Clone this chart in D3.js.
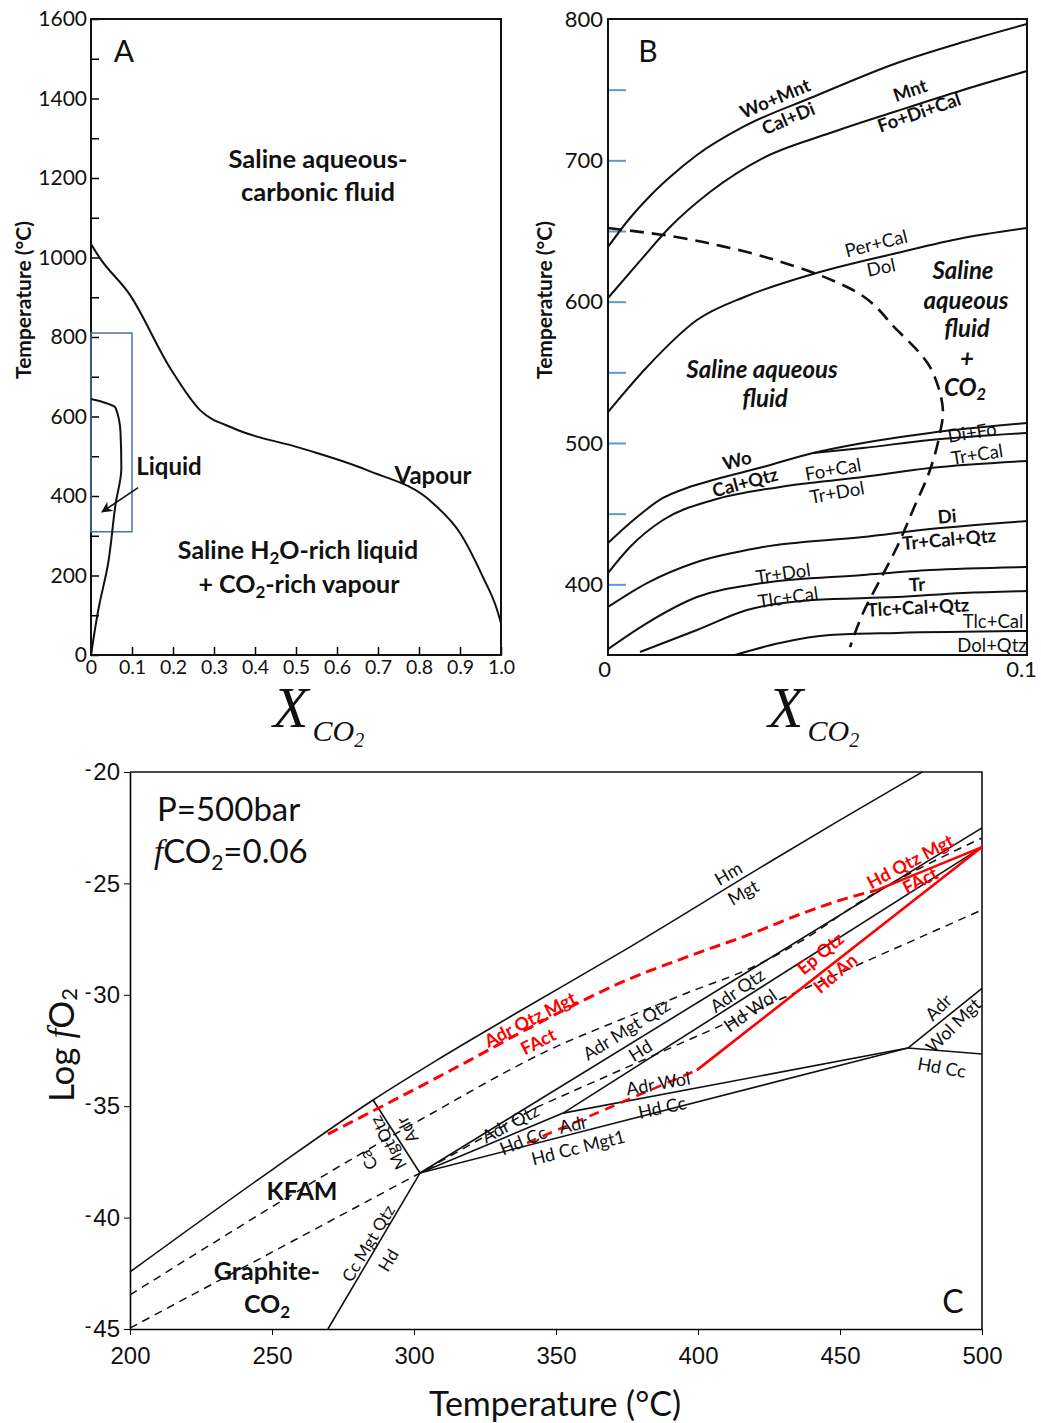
<!DOCTYPE html>
<html>
<head>
<meta charset="utf-8">
<script src="https://cdn.jsdelivr.net/npm/d3@7"></script>
<style>
body { margin: 0; background: #fff; }
svg { display: block; }
text { font-family: Lato, "Open Sans", sans-serif; fill: #111; }
</style>
</head>
<body>
<div id="container"></div>
<script>

// ---------- panel A : X_CO2 (0-1) vs temperature
var aSolvus = [[0,1034],[0.02,1001],[0.095,906],[0.193,722],[0.266,616],[0.346,571],[0.51,521],[0.673,465],[0.834,382],[0.9,307],[0.956,196],[0.99,115],[1.0,80]];
var aLiquid = [[0,0],[0.02,125],[0.04,220],[0.06,380],[0.074,470],[0.072,560],[0.06,622],[0.03,636],[0,644]];
var aBox = [[0,310],[0.1,810]];
var aArrow = [[0.115,421],[0.027,360]];
var aTicksX = [0,0.1,0.2,0.3,0.4,0.5,0.6,0.7,0.8,0.9,1.0];
var aTicksY = [0,200,400,600,800,1000,1200,1400,1600];
var aTicksYMinor = [100,300,500,700,900,1100,1300,1500];

// ---------- panel B : X_CO2 (0-0.1) vs temperature
var bWoMnt = [[0,638.7],[0.00525,659.2],[0.01002,674.8],[0.0148,688.2],[0.02124,703.8],[0.03222,723.6],[0.04893,744.8],[0.06897,768.9],[0.08473,783.7],[0.1,796.5]];
var bMnt = [[0,602.6],[0.00764,628.8],[0.0148,652.8],[0.02434,677.6],[0.03699,701.6],[0.05298,719.3],[0.06897,734.9],[0.08473,749.8],[0.1,763.2]];
var bPerCal = [[0,521.9],[0.00931,553.8],[0.02124,587.0],[0.03317,604.0],[0.04893,619.6],[0.06897,634.4],[0.08473,645.0],[0.1,652.1]];
var bWo = [[0,429.2],[0.00525,443.4],[0.01313,461.1],[0.01909,468.5],[0.02506,473.8],[0.03699,483.0],[0.04893,492.9],[0.06086,500.0],[0.07685,507.1],[0.1,514.1]];
var bDiFo = [[0.04893,492.9],[0.06086,496.5],[0.07685,502.1],[0.1,507.1]];
var bFoCal = [[0,408.0],[0.00525,426.4],[0.01313,445.5],[0.02506,459.7],[0.04105,468.9],[0.06086,475.9],[0.07685,482.3],[0.1,487.3]];
var bDi = [[0,384.0],[0.00931,400.9],[0.02124,415.8],[0.03699,426.4],[0.06086,433.5],[0.07685,439.1],[0.1,444.8]];
var bTrDol = [[0,354.2],[0.00931,372.6],[0.02124,391.0],[0.03699,400.9],[0.06086,406.6],[0.07685,410.1],[0.1,412.3]];
var bTr = [[0.00764,352.1],[0.02124,367.7],[0.03317,381.8],[0.04893,388.9],[0.06897,391.0],[0.08473,393.9],[0.1,395.3]];
var bTlc = [[0.03031,350],[0.04105,358.5],[0.05298,364.1],[0.06897,365.6],[0.1,367.0]];
var bFluid = [[0,652.1],[0.01313,647.2],[0.02912,638.0],[0.04511,624.5],[0.05704,610.4],[0.06897,580.0],[0.07685,553.8],[0.07852,542.4],[0.07995,521.2],[0.07924,507.1],[0.07685,480.9],[0.07279,452.6],[0.06897,426.4],[0.06492,403.1],[0.06086,379.7],[0.05776,355.6]];
var bTicksY = [400,500,600,700,800];
var bTicksBlue = [400,450,500,550,600,650,700,750];
var bTicksX = [0,0.1];

// ---------- panel C : temperature vs log fO2
var cHmMgt = [[200,-42.44],[250.4,-37.82],[285.6,-34.72],[308.1,-32.93],[337.3,-30.73],[372.5,-28.12],[426.4,-23.95],[448.9,-22.24],[479,-20]];
var cRedUpperDash = [[269.7,-36.25],[319.7,-32.93],[337.3,-31.71],[354.9,-30.55],[372.5,-29.47],[396.1,-28.30],[419.4,-27.23],[437.0,-26.33],[452.5,-25.66],[463.0,-25.30]];
var cRedUpperSolid = [[463.0,-25.30],[500,-23.37]];
var cDashUpper = [[200,-43.47],[302.1,-35.62],[351.4,-32.25],[372.5,-31.13],[396.1,-29.92],[419.4,-28.75],[437,-27.54],[458.1,-25.75],[500,-22.96]];
var cDashLower = [[200,-44.96],[302.1,-38.0],[343.3,-35.04],[500,-26.19]];
var cFan = [302.1,-38.0];
var cP2 = [352.5,-35.31];
var cP3 = [473.9,-32.39];
var cSolid = [
	[cFan,[500,-22.51]],
	[cP2,[500,-23.37]],
	[cFan,cP2],
	[cP2,cP3],
	[cFan,cP3],
	[cP3,[500,-29.71]],
	[cP3,[500,-32.66]],
	[[285.6,-34.72],cFan],
	[cFan,[269.7,-45]]
];
var cRedLowerDash = [[339.8,-36.65],[399.6,-33.38]];
var cRedSolid = [[399.6,-33.38],[500,-23.37]];
var cTicksX = [200,250,300,350,400,450,500];
var cTicksY = [-20,-25,-30,-35,-40,-45];


var svg = d3.select("#container").append("svg")
	.attr("width", 1041).attr("height", 1423);


function drawline(g, data, x, y, curve, stroke, width, dash) {
	g.append("path").datum(data)
	 .attr("d", d3.line().x(function(d){return x(d[0])}).y(function(d){return y(d[1])}).curve(curve))
	 .attr("fill", "none")
	 .attr("stroke", stroke)
	 .attr("stroke-width", width)
	 .attr("stroke-dasharray", dash || null);
};


function note(g, str, px, py, o) {
	o = o || {};
	var size = o.size || 18;
	var t = g.append("text")
	 .attr("x", px).attr("y", py)
	 .attr("text-anchor", o.anchor || "middle")
	 .attr("dominant-baseline", "central")
	 .attr("font-size", size)
	 .attr("font-weight", o.bold ? "bold" : "normal")
	 .attr("font-style", o.italic ? "italic" : "normal")
	 .style("fill", o.color || "#111");
	if (o.rot) t.attr("transform", "rotate(" + o.rot + "," + px + "," + py + ")");
	if (typeof str === "string") {
		t.text(str);
	} else {
		// parts: [text, sub?, back-up?]
		str.forEach(function(p) {
			var s = t.append("tspan").text(p[0]);
			if (p[1]) s.attr("font-size", size * 0.68).attr("dy", size * 0.3);
			else if (p[2]) s.attr("dy", -size * 0.3);
		});
	}
	return t;
};


function xco2(g, px, base) {
	var t = g.append("text").attr("x", px).attr("y", base)
	 .style("font-family", "'Liberation Serif','DejaVu Serif',serif")
	 .attr("font-style", "italic");
	t.append("tspan").attr("font-size", 58).text("X");
	t.append("tspan").attr("font-size", 30).attr("dx", 4).attr("dy", 14).text("CO");
	t.append("tspan").attr("font-size", 20).attr("dy", 6).text("2");
};


// ================= PANEL A
function panelA() {
	var g = svg.append("g");
	var x = d3.scaleLinear().domain([0, 1]).range([91, 501]);
	var y = d3.scaleLinear().domain([0, 1600]).range([655, 19]);

	g.append("g").attr("transform", "translate(91,0)")
	 .call(d3.axisLeft(y).tickValues(aTicksYMinor).tickSize(-8).tickFormat(""));
	g.append("g").attr("transform", "translate(91,0)")
	 .call(d3.axisLeft(y).tickValues(aTicksY).tickSize(-8).tickPadding(4).tickFormat(d3.format("d")))
	 .selectAll("text").attr("font-size", 21).style("font-family", "Lato, sans-serif");
	g.append("g").attr("transform", "translate(0,655)")
	 .call(d3.axisBottom(x).tickValues(aTicksX).tickSize(-8).tickPadding(5)
	   .tickFormat(function(d){ return d === 0 ? "0" : d3.format(".1f")(d) }))
	 .selectAll("text").attr("font-size", 19.5).style("font-family", "Lato, sans-serif");
	g.selectAll(".domain").remove();
	g.selectAll(".tick line").attr("stroke-width", 1.5);

	g.append("rect").attr("x", x(0)).attr("y", y(1600))
	 .attr("width", x(1) - x(0)).attr("height", y(0) - y(1600))
	 .attr("fill", "none").attr("stroke", "#111").attr("stroke-width", 2);

	g.append("rect").attr("x", x(aBox[0][0])).attr("y", y(aBox[1][1]))
	 .attr("width", x(aBox[1][0]) - x(aBox[0][0]))
	 .attr("height", y(aBox[0][1]) - y(aBox[1][1]))
	 .attr("fill", "none").attr("stroke", "#4a70a8").attr("stroke-width", 1.5);

	drawline(g, aSolvus, x, y, d3.curveMonotoneX, "#111", 2);
	drawline(g, aLiquid, x, y, d3.curveMonotoneY, "#111", 2);

	svg.append("defs").append("marker").attr("id", "arrowA")
	 .attr("viewBox", "0 0 10 10").attr("refX", 9).attr("refY", 5)
	 .attr("markerWidth", 7).attr("markerHeight", 7).attr("orient", "auto")
	 .append("path").attr("d", "M0,0L10,5L0,10L3,5Z").attr("fill", "#111");
	g.append("line")
	 .attr("x1", x(aArrow[0][0])).attr("y1", y(aArrow[0][1]))
	 .attr("x2", x(aArrow[1][0])).attr("y2", y(aArrow[1][1]))
	 .attr("stroke", "#111").attr("stroke-width", 1.6).attr("marker-end", "url(#arrowA)");

	note(g, "A", 124, 50, {size: 30});
	note(g, "Saline aqueous-", 318, 158, {size: 25.5, bold: true});
	note(g, "carbonic fluid", 318, 191, {size: 25.5, bold: true});
	note(g, "Liquid", 169, 465, {size: 24, bold: true});
	note(g, "Vapour", 433, 474, {size: 24, bold: true});
	note(g, [["Saline H"], ["2", true], ["O-rich liquid", false, true]], 298, 549, {size: 25, bold: true});
	note(g, [["+ CO"], ["2", true], ["-rich vapour", false, true]], 299, 583, {size: 25, bold: true});
	note(g, "Temperature (°C)", 22, 300, {size: 21, bold: true, rot: -90});
	xco2(g, 273, 727);
};


// ================= PANEL B
function panelB() {
	var g = svg.append("g");
	var x = d3.scaleLinear().domain([0, 0.1]).range([608, 1027]);
	var y = d3.scaleLinear().domain([350, 800]).range([655, 19]);

	g.append("g").attr("transform", "translate(608,0)")
	 .call(d3.axisLeft(y).tickValues(bTicksBlue).tickSize(-18).tickFormat(""))
	 .selectAll("line").attr("stroke", "#5b9bd5").attr("stroke-width", 2);
	g.append("g").attr("transform", "translate(608,0)")
	 .call(d3.axisLeft(y).tickValues(bTicksY).tickSize(0).tickPadding(5))
	 .selectAll("text").attr("font-size", 22).style("font-family", "Lato, sans-serif");
	g.append("g").attr("transform", "translate(0,655)")
	 .call(d3.axisBottom(x).tickValues(bTicksX).tickSize(0).tickPadding(6)
	   .tickFormat(function(d){ return d === 0 ? "0" : "0.1" }))
	 .selectAll("text").attr("font-size", 22).style("font-family", "Lato, sans-serif")
	 .attr("dx", function(d){ return d === 0 ? -4 : -6 });
	g.selectAll(".domain").remove();

	g.append("rect").attr("x", x(0)).attr("y", y(800))
	 .attr("width", x(0.1) - x(0)).attr("height", y(350) - y(800))
	 .attr("fill", "none").attr("stroke", "#111").attr("stroke-width", 2);

	var curves = [bWoMnt, bMnt, bPerCal, bWo, bDiFo, bFoCal, bDi, bTrDol, bTr, bTlc];
	curves.forEach(function(c) { drawline(g, c, x, y, d3.curveMonotoneX, "#111", 2); });
	drawline(g, bFluid, x, y, d3.curveMonotoneY, "#111", 2.6, "14,8");

	note(g, "B", 648, 50, {size: 30});
	note(g, "Wo+Mnt", 775, 98, {size: 18.5, bold: true, rot: -23});
	note(g, "Cal+Di", 788, 118, {size: 18.5, bold: true, rot: -23});
	note(g, "Mnt", 910, 90, {size: 18.5, bold: true, rot: -19});
	note(g, "Fo+Di+Cal", 919, 112, {size: 18.5, bold: true, rot: -19});
	note(g, "Per+Cal", 876, 243, {size: 18.5, rot: -14});
	note(g, "Dol", 881, 267, {size: 18.5, rot: -12});
	note(g, "Saline", 963, 269, {size: 24, bold: true, italic: true});
	note(g, "aqueous", 966, 299, {size: 24, bold: true, italic: true});
	note(g, "fluid", 967, 327, {size: 24, bold: true, italic: true});
	note(g, "+", 967, 357, {size: 24, bold: true, italic: true});
	note(g, [["CO"], ["2", true]], 965, 386, {size: 24, bold: true, italic: true});
	note(g, "Saline aqueous", 762, 368, {size: 24, bold: true, italic: true});
	note(g, "fluid", 765, 397, {size: 24, bold: true, italic: true});
	note(g, "Wo", 737, 460, {size: 18.5, bold: true, rot: -15});
	note(g, "Cal+Qtz", 745, 482, {size: 18.5, bold: true, rot: -15});
	note(g, "Fo+Cal", 833, 469, {size: 18.5, rot: -10});
	note(g, "Tr+Dol", 837, 492, {size: 18.5, rot: -10});
	note(g, "Di+Fo", 972, 432, {size: 18.5, rot: -9});
	note(g, "Tr+Cal", 977, 454, {size: 18.5, rot: -9});
	note(g, "Di", 947, 516, {size: 18.5, bold: true, rot: -5});
	note(g, "Tr+Cal+Qtz", 949, 539, {size: 18.5, bold: true, rot: -5});
	note(g, "Tr+Dol", 783, 573, {size: 18.5, rot: -8});
	note(g, "Tlc+Cal", 788, 597, {size: 18.5, rot: -8});
	note(g, "Tr", 917, 584, {size: 18.5, bold: true, rot: -3});
	note(g, "Tlc+Cal+Qtz", 918, 607, {size: 18.5, bold: true, rot: -3});
	note(g, "Tlc+Cal", 993, 621, {size: 18.5});
	note(g, "Dol+Qtz", 992, 645, {size: 18.5});
	note(g, "Temperature (°C)", 543, 300, {size: 21, bold: true, rot: -90});
	xco2(g, 768, 727);
};


// ================= PANEL C
function panelC() {
	var g = svg.append("g");
	var x = d3.scaleLinear().domain([200, 500]).range([130, 982]);
	var y = d3.scaleLinear().domain([-45, -20]).range([1329, 772]);

	var ay = g.append("g").attr("transform", "translate(130,0)")
	 .call(d3.axisLeft(y).tickValues(cTicksY).tickSize(6).tickSizeOuter(0).tickPadding(4));
	ay.selectAll(".tick text").each(function(d) {
		var t = d3.select(this).text(null)
		 .attr("font-size", 24).style("font-family", "'Liberation Sans', Arial, sans-serif");
		t.append("tspan").attr("font-size", 20).attr("baseline-shift", "20%").text("-");
		t.append("tspan").attr("dx", 2).text(Math.abs(d));
	});
	g.append("g").attr("transform", "translate(0,1329)")
	 .call(d3.axisBottom(x).tickValues(cTicksX).tickSize(6).tickSizeOuter(0).tickPadding(12))
	 .selectAll("text").attr("font-size", 24).style("font-family", "'Liberation Sans', Arial, sans-serif");
	g.selectAll(".domain").attr("stroke-width", 1.6);
	g.append("path")
	 .attr("d", "M" + x(200) + "," + y(-20) + "H" + x(500) + "V" + y(-45))
	 .attr("fill", "none").attr("stroke", "#111").attr("stroke-width", 1.6);

	drawline(g, cDashUpper, x, y, d3.curveMonotoneX, "#111", 1.5, "8,6");
	drawline(g, cDashLower, x, y, d3.curveLinear, "#111", 1.5, "8,6");
	drawline(g, cHmMgt, x, y, d3.curveMonotoneX, "#111", 1.6);
	cSolid.forEach(function(s) { drawline(g, s, x, y, d3.curveLinear, "#111", 1.6); });
	drawline(g, cRedUpperDash, x, y, d3.curveMonotoneX, "#ff0000", 3, "11,6");
	drawline(g, cRedUpperSolid, x, y, d3.curveLinear, "#ff0000", 2.6);
	drawline(g, cRedLowerDash, x, y, d3.curveLinear, "#ff0000", 2.6, "10,7");
	drawline(g, cRedSolid, x, y, d3.curveLinear, "#ff0000", 2.6);

	var red = "#ff0000";
	note(g, "P=500bar", 157, 808, {size: 33, anchor: "start"});
	var f = g.append("text").attr("x", 154).attr("y", 863).attr("font-size", 33);
	f.append("tspan").attr("font-style", "italic").style("font-family", "'Liberation Serif',serif").text("f");
	f.append("tspan").text("CO");
	f.append("tspan").attr("font-size", 21).attr("dy", 7).text("2");
	f.append("tspan").attr("dy", -7).text("=0.06");

	note(g, "Hm", 728, 873, {rot: -30});
	note(g, "Mgt", 743, 892, {rot: -30});
	note(g, "Adr Qtz Mgt", 530, 1019, {size: 18, bold: true, color: red, rot: -27});
	note(g, "FAct", 538, 1041, {size: 18, bold: true, color: red, rot: -27});
	note(g, "Adr Mgt Qtz", 626, 1029, {rot: -32});
	note(g, "Hd", 640, 1050, {rot: -32});
	note(g, "Adr Qtz", 737, 990, {rot: -35});
	note(g, "Hd Wol", 750, 1010, {rot: -35});
	note(g, "Ep Qtz", 820, 953, {size: 18, bold: true, color: red, rot: -40});
	note(g, "Hd An", 835, 973, {size: 18, bold: true, color: red, rot: -40});
	note(g, "Hd Qtz Mgt", 910, 861, {size: 18, bold: true, color: red, rot: -28});
	note(g, "FAct", 920, 880, {size: 18, bold: true, color: red, rot: -28});
	note(g, "Adr", 938, 1007, {rot: -45});
	note(g, "Wol Mgt", 953, 1025, {rot: -45});
	note(g, "Hd Cc", 942, 1067, {rot: 10});
	note(g, "Adr Wol", 658, 1083, {rot: -10});
	note(g, "Hd Cc", 662, 1107, {rot: -12});
	note(g, "Adr", 573, 1124, {rot: -12});
	note(g, "Hd Cc", 523, 1140, {rot: -22});
	note(g, "Hd Cc Mgt1", 578, 1147, {rot: -14});
	note(g, "Adr Qtz", 510, 1123, {rot: -28});
	note(g, "Ca", 368, 1160, {size: 17, rot: -118});
	note(g, "MgtQtz", 388, 1143, {size: 17, rot: -118});
	note(g, "Adr", 407, 1130, {size: 17, rot: -118});
	note(g, "Cc Mgt Qtz", 368, 1243, {size: 17, rot: -59});
	note(g, "Hd", 388, 1260, {size: 17, rot: -59});
	note(g, "KFAM", 302, 1190, {size: 25, bold: true});
	note(g, "Graphite-", 267, 1270, {size: 25, bold: true});
	note(g, [["CO"], ["2", true]], 267, 1303, {size: 25, bold: true});
	note(g, "C", 953, 1300, {size: 32});

	note(g, "Temperature (°C)", 555, 1402, {size: 34});
	var lt = g.append("text").attr("transform", "translate(60,1045) rotate(-90)")
	 .attr("text-anchor", "middle").attr("dominant-baseline", "central").attr("font-size", 35);
	lt.append("tspan").text("Log ");
	lt.append("tspan").attr("font-style", "italic").style("font-family", "'Liberation Serif',serif").text("f");
	lt.append("tspan").text("O");
	lt.append("tspan").attr("font-size", 22).attr("dy", 8).text("2");
};


function main() {
	panelA();
	panelB();
	panelC();
};


main()

</script>
</body>
</html>
